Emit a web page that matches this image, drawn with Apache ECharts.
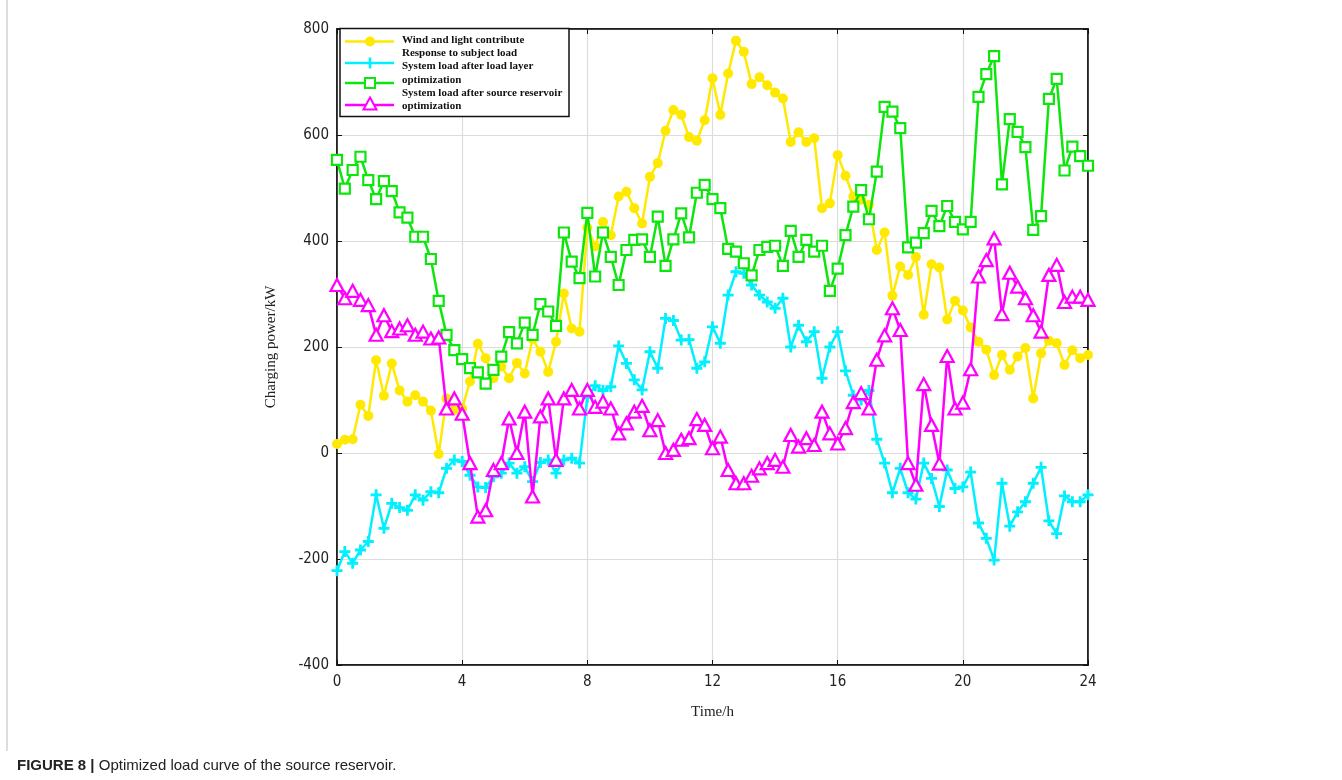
<!DOCTYPE html>
<html>
<head>
<meta charset="utf-8">
<script src="https://cdn.jsdelivr.net/npm/echarts@6/dist/echarts.min.js"></script>
<style>
html,body{margin:0;padding:0;background:#fff;}
#chart{width:1342px;height:780px;}
</style>
</head>
<body>
<div id="chart"></div>
<script>
const hours = [0,0.25,0.5,0.75,1,1.25,1.5,1.75,2,2.25,2.5,2.75,3,3.25,3.5,3.75,4,4.25,4.5,4.75,5,5.25,5.5,5.75,6,6.25,6.5,6.75,7,7.25,7.5,7.75,8,8.25,8.5,8.75,9,9.25,9.5,9.75,10,10.25,10.5,10.75,11,11.25,11.5,11.75,12,12.25,12.5,12.75,13,13.25,13.5,13.75,14,14.25,14.5,14.75,15,15.25,15.5,15.75,16,16.25,16.5,16.75,17,17.25,17.5,17.75,18,18.25,18.5,18.75,19,19.25,19.5,19.75,20,20.25,20.5,20.75,21,21.25,21.5,21.75,22,22.25,22.5,22.75,23,23.25,23.5,23.75,24];

const windLight = [17,25,26,91,70,175,108,169,118,97,109,97,80,-2,103,81,84,135,206,179,141,163,141,170,150,215,191,153,210,301,235,229,425,390,436,411,484,493,462,433,521,547,608,647,638,596,589,628,707,638,716,778,757,696,709,694,680,669,587,605,587,594,462,471,562,523,484,478,468,383,416,297,352,336,370,261,356,350,252,287,269,237,210,195,147,185,157,182,198,103,188,212,207,166,194,179,185];

const subjectLoad = [-222,-186,-208,-183,-167,-79,-142,-95,-103,-108,-79,-89,-73,-75,-29,-13,-16,-42,-64,-65,-45,-38,-19,-38,-26,-54,-18,-13,-38,-13,-10,-19,105,127,118,125,202,169,138,119,191,160,254,250,213,214,160,172,238,207,298,342,339,317,298,285,273,292,200,241,210,229,141,200,229,155,109,100,118,26,-19,-75,-29,-75,-87,-19,-48,-101,-32,-67,-64,-36,-132,-161,-202,-57,-138,-111,-92,-57,-27,-128,-152,-81,-92,-92,-79];

const loadLayer = [553,499,534,559,515,479,513,494,454,444,408,408,366,287,223,194,177,160,152,131,157,182,228,207,246,223,281,267,240,416,361,330,453,333,416,370,317,383,402,403,370,446,353,403,452,407,491,506,479,462,385,380,358,335,383,389,391,353,419,370,402,380,391,306,348,411,465,496,441,531,653,644,613,388,397,415,457,428,466,436,422,436,672,715,749,507,630,606,577,421,447,668,706,533,578,560,542];

const sourceReservoir = [317,292,306,289,279,223,260,230,235,241,223,229,216,218,84,103,74,-19,-120,-108,-32,-19,65,0,78,-82,69,103,-13,103,119,84,119,87,97,84,37,56,78,89,43,62,0,6,25,28,64,53,9,31,-32,-57,-57,-43,-29,-19,-13,-26,34,12,28,15,78,37,18,47,96,113,84,176,222,273,232,-19,-60,130,53,-20,183,84,95,158,333,364,405,262,340,314,292,260,229,336,355,285,295,295,289];

const xTicks = [0,4,8,12,16,20,24];
const yTicks = [-400,-200,0,200,400,600,800];

const seriesNames = ['Wind and light contribute','Response to subject load','System load after load layer optimization','System load after source reservoir optimization'];
const legendLines = ['Wind and light contribute','Response to subject load','System load after load layer','optimization','System load after source reservoir','optimization'];
const colors = ['#ffe900','#00f0ff','#0de60d','#ff00ff'];

function pairs(vals){ return vals.map((v,i)=>[hours[i], v]); }

const plusPath = 'path://M-1.3,-5 L1.3,-5 L1.3,-1.3 L5,-1.3 L5,1.3 L1.3,1.3 L1.3,5 L-1.3,5 L-1.3,1.3 L-5,1.3 L-5,-1.3 L-1.3,-1.3 Z';

const tickFont = {fontFamily:'"Liberation Sans Narrow","DejaVu Sans Condensed","Liberation Sans",sans-serif', fontSize:15, color:'#222'};
const serif = '"Liberation Serif","DejaVu Serif",serif';

const chart = echarts.init(document.getElementById('chart'));

const legendGraphics = [];
legendGraphics.push({type:'rect', shape:{x:340, y:28.5, width:229, height:88}, style:{fill:'#fff', stroke:'#111', lineWidth:1.5}, z:100});
const legendRowY = [41.5, 63, 83, 105];
for (let k=0;k<4;k++){
  const y = legendRowY[k];
  legendGraphics.push({type:'line', shape:{x1:345,y1:y,x2:394,y2:y}, style:{stroke:colors[k], lineWidth:2.5}, z:101});
  if (k===0) legendGraphics.push({type:'circle', shape:{cx:370,cy:y,r:5}, style:{fill:colors[k]}, z:102});
  if (k===1) legendGraphics.push({type:'rect', shape:{x:368.7,y:y-5.5,width:2.6,height:11}, style:{fill:colors[k]}, z:102});
  if (k===2) legendGraphics.push({type:'rect', shape:{x:365,y:y-5,width:10,height:10}, style:{fill:'#fff', stroke:colors[k], lineWidth:2}, z:102});
  if (k===3) legendGraphics.push({type:'polygon', shape:{points:[[370,y-7.5],[376.5,y+4.5],[363.5,y+4.5]]}, style:{fill:'#fff', stroke:colors[k], lineWidth:2}, z:102});
}
const legendTextY = [40.5, 53, 66, 80, 93, 106];
for (let k=0;k<legendLines.length;k++){
  legendGraphics.push({type:'text', x:402, y:legendTextY[k], style:{text:legendLines[k], font:'bold 11px '+serif, fill:'#111', textVerticalAlign:'middle'}, z:102});
}

const option = {
  animation:false,
  backgroundColor:'#fff',
  grid:{left:337, right:254, top:29, bottom:115, show:true, borderColor:'#111', borderWidth:1.5, backgroundColor:'transparent'},
  xAxis:[{
    type:'value', min:0, max:24, interval:4,
    name:'Time/h', nameLocation:'middle', nameGap:40,
    nameTextStyle:{fontFamily:serif, fontSize:15, color:'#222'},
    axisLine:{show:true, onZero:false, lineStyle:{color:'#111', width:1.5}},
    axisTick:{show:true, inside:true, length:5, lineStyle:{color:'#111'}},
    axisLabel:Object.assign({margin:10, formatter:v=> xTicks.includes(v)? String(v):''}, tickFont),
    splitLine:{show:true, lineStyle:{color:'#dcdcdc', width:1.2}}
  },{
    type:'value', min:0, max:24, interval:4, position:'top',
    axisLine:{show:true, onZero:false, lineStyle:{color:'#111', width:1.5}},
    axisTick:{show:true, inside:true, length:5, lineStyle:{color:'#111'}},
    axisLabel:{show:false}, splitLine:{show:false}
  }],
  yAxis:[{
    type:'value', min:-400, max:800, interval:200,
    name:'Charging power/kW', nameLocation:'middle', nameGap:58, nameRotate:90,
    nameTextStyle:{fontFamily:serif, fontSize:15, color:'#222'},
    axisLine:{show:true, onZero:false, lineStyle:{color:'#111', width:1.5}},
    axisTick:{show:true, inside:true, length:5, lineStyle:{color:'#111'}},
    axisLabel:Object.assign({margin:8, formatter:v=> yTicks.includes(v)? String(v):''}, tickFont),
    splitLine:{show:true, lineStyle:{color:'#dcdcdc', width:1.2}}
  },{
    type:'value', min:-400, max:800, interval:200, position:'right',
    axisLine:{show:true, onZero:false, lineStyle:{color:'#111', width:1.5}},
    axisTick:{show:true, inside:true, length:5, lineStyle:{color:'#111'}},
    axisLabel:{show:false}, splitLine:{show:false}
  }],
  series:[
    {name:seriesNames[0], type:'line', data:pairs(windLight), symbol:'circle', symbolSize:10, showAllSymbol:true,
     lineStyle:{color:colors[0], width:2.5}, itemStyle:{color:colors[0]}, z:2},
    {name:seriesNames[1], type:'line', data:pairs(subjectLoad), symbol:plusPath, symbolSize:11, showAllSymbol:true,
     lineStyle:{color:colors[1], width:2.5}, itemStyle:{color:colors[1]}, z:3},
    {name:seriesNames[2], type:'line', data:pairs(loadLayer), symbol:'rect', symbolSize:10, showAllSymbol:true,
     lineStyle:{color:colors[2], width:2.5}, itemStyle:{color:'#fff', borderColor:colors[2], borderWidth:2.2}, z:4},
    {name:seriesNames[3], type:'line', data:pairs(sourceReservoir), symbol:'triangle', symbolSize:[13,12], showAllSymbol:true,
     lineStyle:{color:colors[3], width:2.5}, itemStyle:{color:'#fff', borderColor:colors[3], borderWidth:2.2}, z:5}
  ],
  graphic: legendGraphics.concat([
    {type:'line', shape:{x1:7,y1:0,x2:7,y2:751}, style:{stroke:'#bbb', lineWidth:1}},
    {type:'text', x:17, y:766, style:{text:'{b|FIGURE 8 |} Optimized load curve of the source reservoir.', rich:{b:{fontFamily:'"Liberation Sans",Arial,sans-serif', fontWeight:'bold', fontSize:15, fill:'#222'}}, font:'15px "Liberation Sans",Arial,sans-serif', fill:'#222', textVerticalAlign:'middle'}}
  ])
};
chart.setOption(option);
</script>
</body>
</html>
